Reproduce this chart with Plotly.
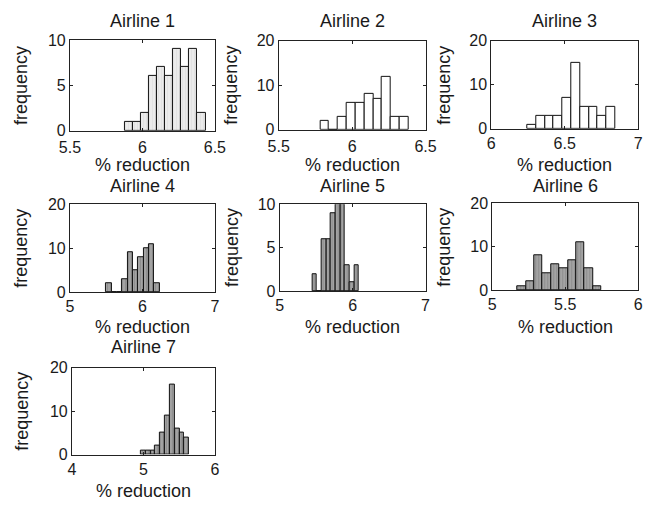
import plotly.graph_objects as go

W, H = 654, 510

airlines = ["Airline 1", "Airline 2", "Airline 3", "Airline 4", "Airline 5", "Airline 6", "Airline 7"]
# histogram bins: first bin left edge, bin width, counts (10 bins each)
bin_start = [5.879, 5.783, 6.246, 5.503, 5.446, 5.174, 4.964]
bin_width = [0.0556, 0.0601, 0.0598, 0.0735, 0.0640, 0.0573, 0.0676]
counts_1 = [1, 1, 2, 6, 7, 6, 9, 7, 9, 2]
counts_2 = [2, 0, 3, 6, 6, 8, 7, 12, 3, 3]
counts_3 = [1, 3, 3, 3, 7, 15, 5, 5, 3, 5]
counts_4 = [2, 0, 0, 3, 9, 5, 8, 10, 11, 2]
counts_5 = [2, 0, 6, 6, 9, 10, 10, 3, 1, 3]
counts_6 = [1, 2, 8, 4, 6, 5, 7, 11, 5, 1]
counts_7 = [1, 1, 1, 2, 5, 9, 16, 6, 5, 4]
counts = [counts_1, counts_2, counts_3, counts_4, counts_5, counts_6, counts_7]

x_ranges = [[5.5, 6.5], [5.5, 6.5], [6, 7], [5, 7], [5, 7], [5, 6], [4, 6]]
x_ticks = [[5.5, 6, 6.5], [5.5, 6, 6.5], [6, 6.5, 7], [5, 6, 7], [5, 6, 7], [5, 5.5, 6], [4, 5, 6]]
y_max = [10, 20, 20, 20, 10, 20, 20]
y_ticks = [[0, 5, 10], [0, 10, 20], [0, 10, 20], [0, 10, 20], [0, 5, 10], [0, 10, 20], [0, 10, 20]]

x_label = "% reduction"
y_label = "frequency"

# layout (pixel boxes of each axes: left, right, top, bottom)
boxes = [
    (61, 211, 33, 127), (277, 429, 34, 126), (497, 649, 34, 125),
    (61, 211, 203, 294), (278, 429, 203, 293), (498, 649, 202, 292),
    (63, 211, 372, 462),
]
title_y = [13, 13, 13, 184, 184, 184, 351]
xlab_y = [162, 162, 162, 330, 330, 330, 500]
ylab_x = [11, 228, 448, 11, 228, 448, 11]
tick_standoff = [2, 2, 0, 0, 0, 0, 0]

fills = ["#ebebeb", "#ffffff", "#ffffff", "#a3a3a3", "#a3a3a3", "#a3a3a3", "#a3a3a3"]
patterns = [True, False, False, True, True, True, True]

FONT = "Liberation Sans, Arial, Helvetica, sans-serif"
TXT = "#1a1a1a"

fig = go.Figure()
annotations = []
for i, name in enumerate(airlines):
    s = "" if i == 0 else str(i + 1)
    centers = [bin_start[i] + bin_width[i] * (k + 0.5) for k in range(len(counts[i]))]
    marker = dict(color=fills[i], line=dict(color="#111111", width=1))
    if patterns[i]:
        marker["pattern"] = dict(shape="|", size=3, solidity=0.25,
                                 fgcolor="#d2d2d2" if i == 0 else "#6a6a6a",
                                 fillmode="overlay")
    fig.add_trace(go.Bar(x=centers, y=counts[i], width=bin_width[i],
                         marker=marker, xaxis="x" + s, yaxis="y" + s,
                         showlegend=False, name=name))
    l, r, t, b = boxes[i]
    ax = dict(domain=[l / W, r / W], range=x_ranges[i], tickvals=x_ticks[i],
              ticks="inside", ticklen=3, tickcolor="#222", showline=True,
              linecolor="#222", linewidth=1, mirror="ticks", showgrid=False,
              zeroline=False, anchor="y" + s, ticklabelstandoff=tick_standoff[i],
              tickfont=dict(family=FONT, size=16, color=TXT))
    ay = dict(domain=[1 - b / H, 1 - t / H], range=[0, y_max[i]], tickvals=y_ticks[i],
              ticks="inside", ticklen=3, tickcolor="#222", showline=True,
              linecolor="#222", linewidth=1, mirror="ticks", showgrid=False,
              zeroline=False, anchor="x" + s,
              tickfont=dict(family=FONT, size=16, color=TXT))
    fig.layout["xaxis" + s] = ax
    fig.layout["yaxis" + s] = ay
    cx = (l + r) / 2
    annotations.append(dict(text=name, x=cx / W, y=1 - title_y[i] / H, xref="paper", yref="paper",
                            showarrow=False, xanchor="center", yanchor="middle",
                            font=dict(family=FONT, size=18, color=TXT)))
    annotations.append(dict(text=x_label, x=cx / W, y=1 - xlab_y[i] / H, xref="paper", yref="paper",
                            showarrow=False, xanchor="center", yanchor="middle",
                            font=dict(family=FONT, size=18, color=TXT)))
    annotations.append(dict(text=y_label, x=ylab_x[i] / W, y=1 - ((t + b) / 2) / H, xref="paper",
                            yref="paper", showarrow=False, xanchor="center", yanchor="middle",
                            textangle=-90, font=dict(family=FONT, size=18, color=TXT)))

fig.update_layout(width=W, height=H, margin=dict(l=0, r=0, t=0, b=0),
                  paper_bgcolor="white", plot_bgcolor="white", bargap=0,
                  annotations=annotations, font=dict(family=FONT, color=TXT))
fig.write_html("out.html")
